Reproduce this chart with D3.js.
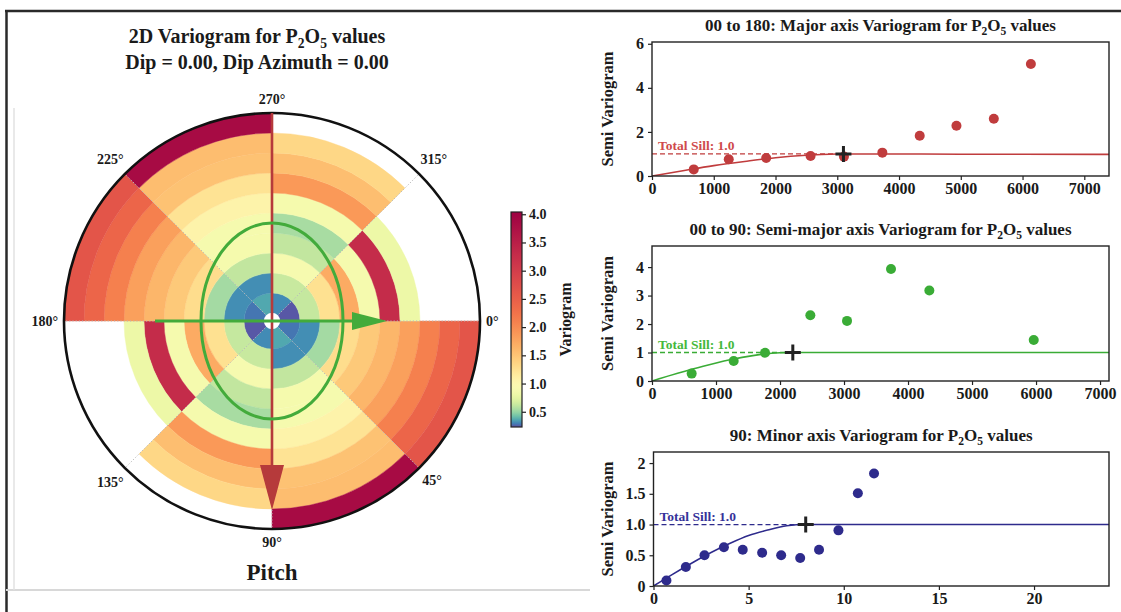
<!DOCTYPE html>
<html><head><meta charset="utf-8">
<script src="https://cdn.jsdelivr.net/npm/d3@7"></script>
<style>
body{margin:0;background:#fff;}
svg{display:block;}
text{font-family:"Liberation Serif","Times New Roman",serif;font-weight:bold;fill:#1a1a1a;}
</style>
</head><body>
<svg id="chart" width="1121" height="612"></svg>
<script>
// ---------------- DATA ----------------
// polar variogram map: sector start azimuths (clockwise from East) and ring values (lag bins outward)
const sectorStarts = [0, 45, 90, 135, 180, 225, 270, 315];
const rings_0_45    = [0.28, 0.315, 0.53, 1.28, 1.46, 1.62, 1.81, 2.10, 2.41, 2.63];
const rings_45_90   = [0.36, 0.315, 0.61, 0.87, 0.88, 1.05, 1.23, 1.52, 1.56, 3.85];
const rings_90_135  = [0.31, 0.63, 0.89, 0.61, 0.54, 0.87, 1.87, 1.55, 1.34];
const rings_135_180 = [0.24, 0.62, 1.25, 1.71, 0.88, 3.28, 0.80];
const rings_180_225 = rings_0_45;
const rings_225_270 = rings_45_90;
const rings_270_315 = rings_90_135;
const rings_315_360 = rings_135_180;
const sectorRings = [rings_0_45, rings_45_90, rings_90_135, rings_135_180,
                     rings_180_225, rings_225_270, rings_270_315, rings_315_360];
const angleLabels = ["0°", "45°", "90°", "135°", "180°", "225°", "270°", "315°"];
const colorDomain = [0.23, 4.04];
const colorTicks = [0.5, 1.0, 1.5, 2.0, 2.5, 3.0, 3.5, 4.0];
// anisotropy overlay (in lag-bin units)
const ellipseRadii = [3.55, 4.9];        // [horizontal, vertical]
const majorArrow = {from: [270, 10.4], to: [90, 9.45]};
const minorArrow = {from: [180, 5.85], to: [0, 5.75]};

// directional variograms
const majorLag   = [676, 1243, 1849, 2568, 3108, 3730, 4335, 4930, 5535, 6135];
const majorGamma = [0.30, 0.76, 0.82, 0.91, 0.88, 1.06, 1.83, 2.28, 2.60, 5.08];
const majorModelLag   = [0, 500, 1000, 1500, 2000, 2500, 3000, 3100, 4000, 5000, 6000, 7400];
const majorModelGamma = [0, 0.24, 0.47, 0.66, 0.83, 0.94, 0.995, 1.0, 1.0, 0.99, 0.985, 0.98];
const majorRange = [3100, 1.0];
const majorXTicks = [0, 1000, 2000, 3000, 4000, 5000, 6000, 7000];
const majorYTicks = [0, 2, 4, 6];
const majorYLabels = ["0", "2", "4", "6"];

const semiLag   = [620, 1276, 1766, 2474, 3047, 3734, 4333, 5964];
const semiGamma = [0.26, 0.70, 0.99, 2.31, 2.11, 3.93, 3.18, 1.44];
const semiModelLag   = [0, 400, 800, 1200, 1600, 2000, 2200, 7140];
const semiModelGamma = [0, 0.27, 0.52, 0.74, 0.90, 0.99, 1.0, 1.0];
const semiRange = [2200, 1.0];
const semiXTicks = [0, 1000, 2000, 3000, 4000, 5000, 6000, 7000];
const semiYTicks = [0, 1, 2, 3, 4];
const semiYLabels = ["0", "1", "2", "3", "4"];

const minorLag   = [0.68, 1.70, 2.68, 3.70, 4.69, 5.71, 6.71, 7.71, 8.70, 9.72, 10.74, 11.59];
const minorGamma = [0.09, 0.31, 0.50, 0.63, 0.59, 0.54, 0.50, 0.455, 0.59, 0.905, 1.51, 1.83];
const minorModelLag   = [0, 1, 2, 3, 4, 5, 6, 7, 8, 23.94];
const minorModelGamma = [0, 0.19, 0.37, 0.54, 0.69, 0.82, 0.91, 0.98, 1.0, 1.0];
const minorRange = [8.0, 1.0];
const minorXTicks = [0, 5, 10, 15, 20];
const minorYTicks = [0, 0.5, 1.0, 1.5, 2];
const minorYLabels = ["0", "0.5", "1.0", "1.5", "2"];

const totalSill = 1.0;

// ---------------- DRAW ----------------
const svg = d3.select("#chart");

// page frame
svg.append("line").attr("x1",5).attr("x2",1121).attr("y1",11).attr("y2",11).attr("stroke","#2a2a2a").attr("stroke-width",2.5);
svg.append("line").attr("x1",6.5).attr("x2",6.5).attr("y1",10).attr("y2",612).attr("stroke","#2a2a2a").attr("stroke-width",2.5);
svg.append("line").attr("x1",6).attr("x2",590).attr("y1",590).attr("y2",590).attr("stroke","#d8d8d8").attr("stroke-width",2);
svg.append("line").attr("x1",14).attr("x2",14).attr("y1",108).attr("y2",590).attr("stroke","#e2e2e2").attr("stroke-width",1.5);

// helper for subscript titles
function subTitle(g, x, y, size, parts) {
  const t = g.append("text").attr("x", x).attr("y", y).attr("text-anchor","middle").style("font-size", size+"px");
  parts.forEach(p => {
    const ts = t.append("tspan").text(p.t);
    if (p.sub) ts.attr("dy", size*0.25).style("font-size", (size*0.68)+"px");
    else if (p.after) ts.attr("dy", -size*0.25);
  });
  return t;
}

// ---- left title ----
subTitle(svg, 257, 43, 20, [{t:"2D Variogram for P"},{t:"2",sub:true},{t:"O",after:true},{t:"5",sub:true},{t:" values",after:true}]);
svg.append("text").attr("x",257).attr("y",69).attr("text-anchor","middle").style("font-size","20px").text("Dip = 0.00, Dip Azimuth = 0.00");

// ---- polar map ----
const cx = 272, cy = 321, R = 208;
const rS = d3.scaleLinear().domain([0, 10.4]).range([0, R]);
const logNorm = d3.scaleLog().domain(colorDomain).range([0, 1]).clamp(true);
const colorOf = v => d3.interpolateSpectral(1 - logNorm(v));
const pg = svg.append("g").attr("transform", `translate(${cx},${cy})`);
const arc = d3.arc();
const deg = Math.PI / 180;

sectorRings.forEach((vals, s) => {
  const a0 = (sectorStarts[s] + 90) * deg, a1 = a0 + 45 * deg;
  vals.forEach((v, i) => {
    pg.append("path")
      .attr("d", arc({innerRadius: rS(0.4 + i), outerRadius: rS(1.4 + i), startAngle: a0, endAngle: a1}))
      .attr("fill", colorOf(v)).attr("stroke", colorOf(v)).attr("stroke-width", 0.4);
  });
});

const polarXY = (thetaDeg, r) => [rS(r) * Math.cos(thetaDeg * deg), rS(r) * Math.sin(thetaDeg * deg)];

// dotted theta grid
sectorStarts.forEach(th => {
  const [x, y] = polarXY(th, 10.4);
  pg.append("line").attr("x1",0).attr("y1",0).attr("x2",x).attr("y2",y)
    .attr("stroke","#b8b8b8").attr("stroke-width",1).attr("stroke-dasharray","1.2,2");
});
// center hole
pg.append("circle").attr("r", rS(0.4)).attr("fill","#fff");

// outer circle
pg.append("circle").attr("r", R).attr("fill","none").attr("stroke","#111").attr("stroke-width",2.6);

// arrow helper
function arrow(a, color, width, headLen, headHalf) {
  const [x0, y0] = polarXY(a.from[0], a.from[1]);
  const [x1, y1] = polarXY(a.to[0], a.to[1]);
  const L = Math.hypot(x1-x0, y1-y0), ux = (x1-x0)/L, uy = (y1-y0)/L;
  const bx = x1 - ux*rS(headLen), by = y1 - uy*rS(headLen);
  pg.append("line").attr("x1",x0).attr("y1",y0).attr("x2",bx+ux*2).attr("y2",by+uy*2)
    .attr("stroke",color).attr("stroke-width",width);
  const h = rS(headHalf);
  pg.append("path").attr("d", `M${x1},${y1}L${bx - uy*h},${by + ux*h}L${bx + uy*h},${by - ux*h}Z`).attr("fill",color);
}
arrow(majorArrow, "#b63a3b", 2.6, 2.25, 0.6);
pg.append("ellipse").attr("rx", rS(ellipseRadii[0])).attr("ry", rS(ellipseRadii[1]))
  .attr("fill","none").attr("stroke","#43ab3b").attr("stroke-width",3);
arrow(minorArrow, "#43ab3b", 3, 1.75, 0.45);

// angle labels
angleLabels.forEach((lab, i) => {
  const th = sectorStarts[i];
  const t = pg.append("text").style("font-size","14px").attr("text-anchor","middle").attr("dominant-baseline","central").text(lab);
  const bb = t.node().getBBox();
  const c = Math.cos(th*deg), s = Math.sin(th*deg);
  const rr = 216 + Math.abs(c)*bb.width/2 + Math.abs(s)*bb.height/2 - 2;
  t.attr("x", rr*c).attr("y", rr*s);
});
svg.append("text").attr("x", cx).attr("y", 580).attr("text-anchor","middle").style("font-size","23px").text("Pitch");

// ---- colorbar ----
const cbX = 511, cbW = 11;
const cbY = d3.scaleLinear().domain(colorDomain).range([427, 212]);
const defs = svg.append("defs");
const grad = defs.append("linearGradient").attr("id","cbgrad").attr("x1",0).attr("y1",1).attr("x2",0).attr("y2",0);
d3.range(0, 61).forEach(i => {
  const v = colorDomain[0] + (colorDomain[1]-colorDomain[0]) * i / 60;
  grad.append("stop").attr("offset", (i/60)).attr("stop-color", colorOf(v));
});
svg.append("rect").attr("x",cbX).attr("y",cbY(colorDomain[1])).attr("width",cbW)
  .attr("height", cbY(colorDomain[0]) - cbY(colorDomain[1])).attr("fill","url(#cbgrad)")
  .attr("stroke","#222").attr("stroke-width",1.2);
const cbAxis = svg.append("g").attr("transform",`translate(${cbX+cbW},0)`)
  .call(d3.axisRight(cbY).tickValues(colorTicks).tickFormat(d3.format(".1f")).tickSize(4).tickPadding(3));
cbAxis.select(".domain").remove();
cbAxis.selectAll("line").attr("stroke","#222").attr("stroke-width",1.2);
cbAxis.selectAll("text").style("font-size","14px").attr("fill","#1a1a1a")
  .style("font-family",'"Liberation Serif","Times New Roman",serif').style("font-weight","bold");
svg.append("text").attr("transform",`translate(571,${(cbY(colorDomain[0])+cbY(colorDomain[1]))/2}) rotate(-90)`)
  .attr("text-anchor","middle").style("font-size","16px").text("Variogram");

// ---- directional variogram panels ----
const panels = [
  {title:"00 to 180: Major axis Variogram for P", left:652, top:42, bottom:176, xMax:7400, yMax:6.08,
   xTicks:majorXTicks, yTicks:majorYTicks, yLabels:majorYLabels, lag:majorLag, gamma:majorGamma,
   mLag:majorModelLag, mGamma:majorModelGamma, range:majorRange, color:"#c03c3d", textColor:"#cf4a4c"},
  {title:"00 to 90: Semi-major axis Variogram for P", left:652, top:246, bottom:381, xMax:7140, yMax:4.74,
   xTicks:semiXTicks, yTicks:semiYTicks, yLabels:semiYLabels, lag:semiLag, gamma:semiGamma,
   mLag:semiModelLag, mGamma:semiModelGamma, range:semiRange, color:"#3aac36", textColor:"#45b83c"},
  {title:"90: Minor axis Variogram for P", left:653.5, top:452, bottom:586, xMax:23.94, yMax:2.18,
   xTicks:minorXTicks, yTicks:minorYTicks, yLabels:minorYLabels, lag:minorLag, gamma:minorGamma,
   mLag:minorModelLag, mGamma:minorModelGamma, range:minorRange, color:"#2e2b8c", textColor:"#35329a"}
];
const right = 1109;

panels.forEach(p => {
  const g = svg.append("g");
  const x = d3.scaleLinear().domain([0, p.xMax]).range([p.left, right]);
  const y = d3.scaleLinear().domain([0, p.yMax]).range([p.bottom, p.top]);

  // title
  subTitle(g, (p.left + right)/2, p.top - 11, 17, [{t:p.title},{t:"2",sub:true},{t:"O",after:true},{t:"5",sub:true},{t:" values",after:true}]);

  // axes
  const xa = g.append("g").attr("transform",`translate(0,${p.bottom})`)
    .call(d3.axisBottom(x).tickValues(p.xTicks).tickFormat(d3.format("d")).tickSize(4).tickPadding(3));
  const ya = g.append("g").attr("transform",`translate(${p.left},0)`)
    .call(d3.axisLeft(y).tickValues(p.yTicks).tickFormat((d,i) => p.yLabels[i]).tickSize(4).tickPadding(4));
  [xa, ya].forEach(a => {
    a.select(".domain").remove();
    a.selectAll("line").attr("stroke","#222").attr("stroke-width",1.2);
    a.selectAll("text").style("font-size","16px").attr("fill","#1a1a1a")
      .style("font-family",'"Liberation Serif","Times New Roman",serif').style("font-weight","bold");
  });

  const clipId = "clip" + p.top;
  defs.append("clipPath").attr("id", clipId).append("rect")
    .attr("x", p.left).attr("y", p.top).attr("width", right - p.left).attr("height", p.bottom - p.top);
  const inner = g.append("g").attr("clip-path", `url(#${clipId})`);

  // model curve
  const line = d3.line().x(d => x(d[0])).y(d => y(d[1])).curve(d3.curveMonotoneX);
  inner.append("path").attr("d", line(p.mLag.map((l,i) => [l, p.mGamma[i]])))
    .attr("fill","none").attr("stroke",p.color).attr("stroke-width",1.6);
  // sill dashed
  inner.append("line").attr("x1",x(0)).attr("x2",x(p.range[0])).attr("y1",y(totalSill)).attr("y2",y(totalSill))
    .attr("stroke",p.color).attr("stroke-width",1.3).attr("stroke-dasharray","5,3");
  g.append("text").attr("x", p.left + 6).attr("y", y(totalSill) - 4).style("font-size","13.5px")
    .attr("fill", p.textColor).style("fill", p.textColor).text("Total Sill: " + totalSill.toFixed(1));

  // experimental points
  inner.selectAll("circle.pt").data(p.lag.map((l,i) => [l, p.gamma[i]])).enter().append("circle")
    .attr("cx", d => x(d[0])).attr("cy", d => y(d[1])).attr("r", 5).attr("fill", p.color);

  // range marker
  const px = x(p.range[0]), py = y(p.range[1]);
  inner.append("path").attr("d", `M${px-8},${py}H${px+8}M${px},${py-8}V${py+8}`)
    .attr("stroke","#222").attr("stroke-width",3);

  // frame
  g.append("rect").attr("x",p.left).attr("y",p.top).attr("width",right-p.left).attr("height",p.bottom-p.top)
    .attr("fill","none").attr("stroke","#222").attr("stroke-width",1.4);

  // y label
  g.append("text").attr("transform",`translate(613,${(p.top+p.bottom)/2}) rotate(-90)`)
    .attr("text-anchor","middle").style("font-size","16.5px").text("Semi Variogram");
});
</script>
</body></html>
